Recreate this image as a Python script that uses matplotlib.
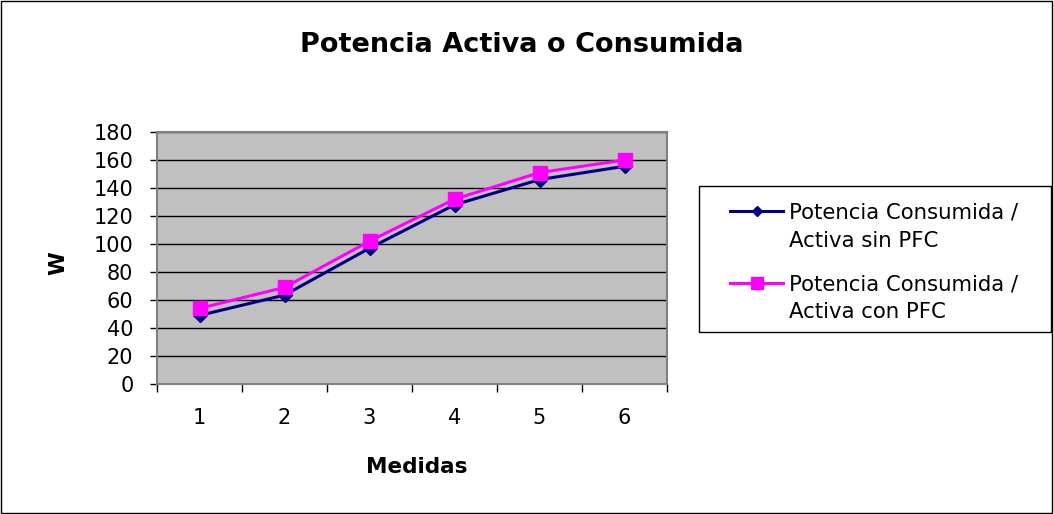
import matplotlib.pyplot as plt
from matplotlib.lines import Line2D
import numpy as np

plt.rcParams['font.family'] = ['DejaVu Sans']

# Data
medidas = [1, 2, 3, 4, 5, 6]
sin_pfc = [49, 63.5, 97, 128, 146, 155.5]
con_pfc = [54, 69, 102, 132, 151, 160]
labels = ['Potencia Consumida /\nActiva sin PFC', 'Potencia Consumida /\nActiva con PFC']
colors = ['#000080', '#ff00ff']
markers = ['D', 's']
msizes = [7, 10.5]

W, H = 1054, 514


def px(x, y):
    # pixel position (from top-left) to figure fraction
    return x / W, 1 - y / H


fig = plt.figure(figsize=(W / 100, H / 100), dpi=100)
ax = fig.add_axes([157 / W, 1 - 384 / H, 510 / W, 252 / H])
ax.set_facecolor('#c0c0c0')

for vals, c, m, ms, lab in zip([sin_pfc, con_pfc], colors, markers, msizes, labels):
    ax.plot(medidas, vals, color=c, lw=2.2, marker=m, ms=ms, label=lab)

ax.set_xlim(0.5, 6.5)
ax.set_ylim(0, 180)
ax.set_yticks(np.arange(0, 181, 20))
ax.yaxis.grid(True, color='black', lw=1)
ax.set_axisbelow(True)

# category ticks between points, labels centered
ax.set_xticks(np.arange(0.5, 7, 1))
ax.set_xticklabels([])
ax.set_xticks(medidas, minor=True)
ax.set_xticklabels([str(m) for m in medidas], minor=True)
ax.tick_params(axis='x', which='minor', length=0, labelsize=15, pad=17)
ax.tick_params(axis='x', which='major', length=6, direction='out', width=1)
ax.tick_params(axis='y', length=5, direction='out', labelsize=15, pad=12, width=1)

for side in ax.spines:
    ax.spines[side].set_color('#808080')
    ax.spines[side].set_linewidth(1.5)

ax.set_xlabel('Medidas', fontsize=15.5, fontweight='bold', va='baseline')
ax.xaxis.set_label_coords(0.509, -0.353)
ax.set_ylabel('W', fontsize=15.5, fontweight='bold', va='center', ha='center')
ax.yaxis.set_label_coords(-0.194, 0.48)

tx, ty = px(522, 52)
fig.text(tx, ty, 'Potencia Activa o Consumida', ha='center', va='baseline',
         fontsize=19.5, fontweight='bold')

# legend box drawn by hand (handle sits on first text line, like Excel)
x0, y0 = px(699, 332)
x1, y1 = px(1051, 186)
fig.patches.append(plt.Rectangle((x0, y0), x1 - x0, y1 - y0, transform=fig.transFigure,
                                 fill=False, edgecolor='black', lw=1))
for i, (c, m, ms, lab) in enumerate(zip(colors, markers, msizes, labels)):
    ly = 211 + i * 72
    xa, ya = px(730, ly)
    xb, _ = px(783, ly)
    xm, _ = px(756.5, ly)
    fig.add_artist(Line2D([xa, xb], [ya, ya], color=c, lw=2.2, transform=fig.transFigure))
    fig.add_artist(Line2D([xm], [ya], color=c, marker=m, ms=ms * 0.8, transform=fig.transFigure))
    for j, line in enumerate(lab.split('\n')):
        lx, lyy = px(789, 218 + i * 72 + j * 28.5)
        fig.text(lx, lyy, line, ha='left', va='baseline', fontsize=15.3)

# outer border
fig.patches.append(plt.Rectangle((0.001, 0.001), 0.997, 0.997, transform=fig.transFigure,
                                 fill=False, edgecolor='black', lw=1))

fig.savefig('out.png', dpi=100)
